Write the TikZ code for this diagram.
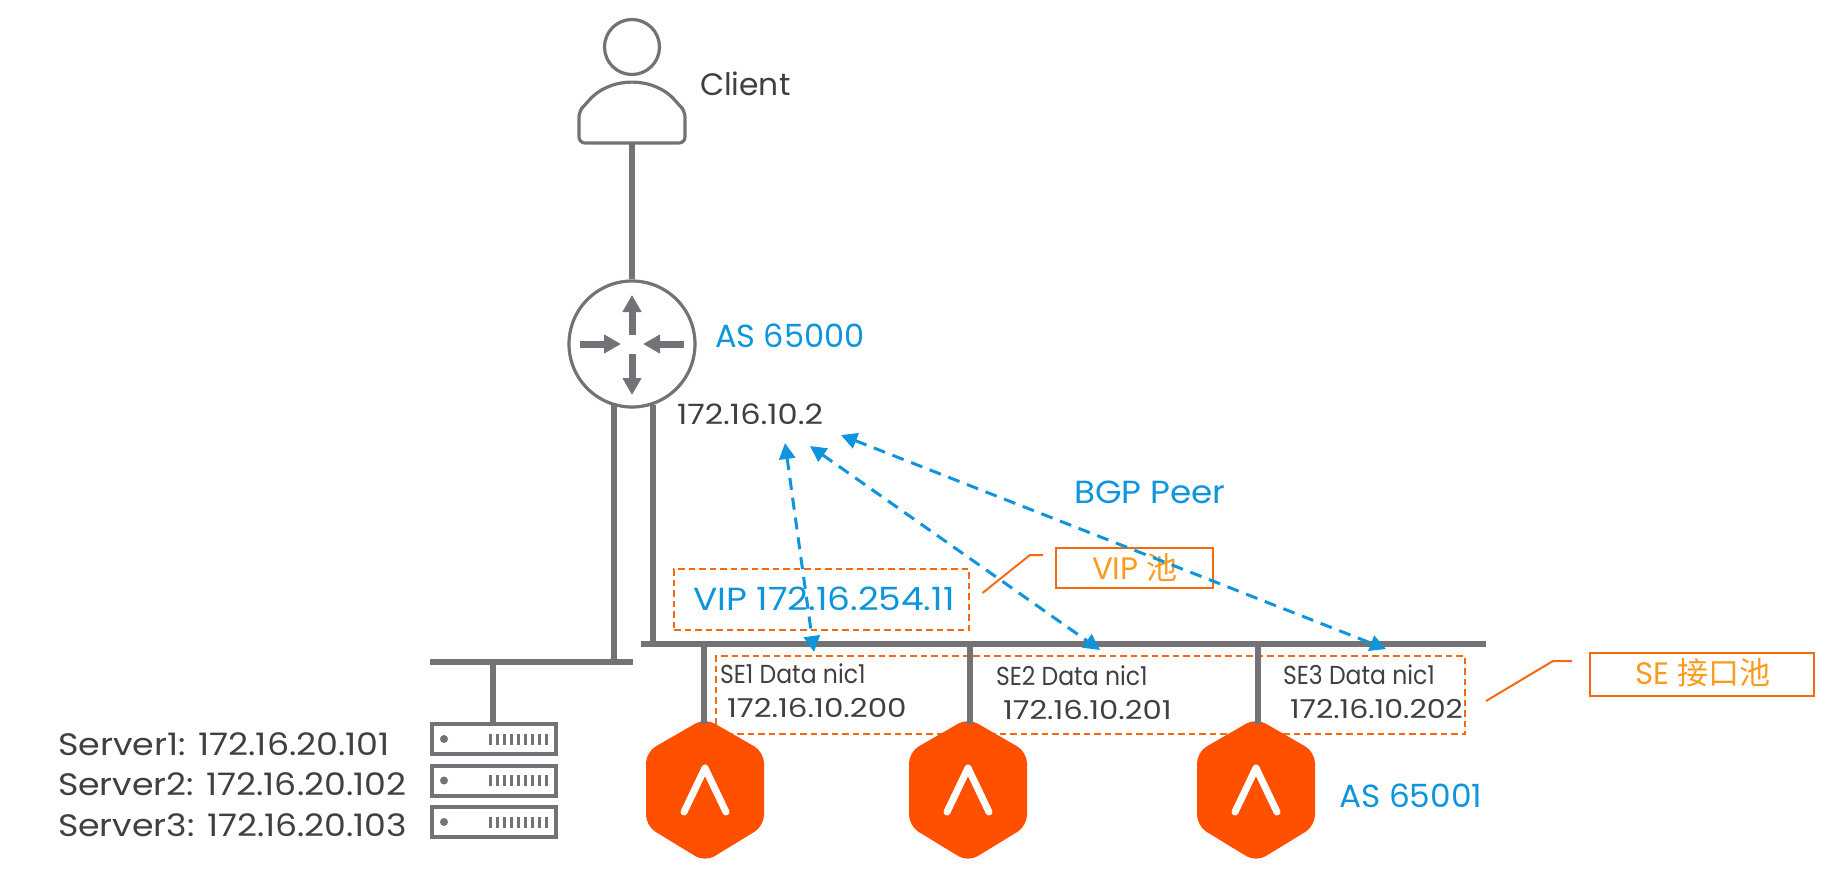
\documentclass[tikz,border=0pt]{standalone}
\usepackage{fontspec}
\setmainfont{Poppins}
\newfontfamily\cjkfont{Noto Sans CJK SC}
\usetikzlibrary{arrows.meta}
\definecolor{netgray}{HTML}{737277}
\definecolor{txtdark}{HTML}{404042}
\definecolor{bgpblue}{HTML}{0E95DB}
\definecolor{lineorange}{HTML}{F46A12}
\definecolor{poolorange}{HTML}{F99B1F}
\definecolor{hexorange}{HTML}{FF5000}
\tikzset{
  lbl/.style={anchor=base west,inner sep=0pt,outer sep=0pt},
  darktxt/.style={lbl,text=txtdark},
  bluetxt/.style={lbl,text=bgpblue},
  pooltxt/.style={lbl,text=poolorange},
  net/.style={draw=netgray,line width=5.5pt},
  iconline/.style={draw=netgray,line width=3.2pt},
  routerarrow/.style={draw=netgray,line width=7pt,-{Triangle[length=17pt,width=18pt]},shorten >=0pt},
  peer/.style={draw=bgpblue,line width=3pt,dash pattern=on 12pt off 8pt,{Triangle[length=16pt,width=16pt]}-{Triangle[length=16pt,width=16pt]}},
  dashbox/.style={draw=lineorange,line width=2pt,dash pattern=on 6.5pt off 4pt},
  poolbox/.style={draw=lineorange,line width=2.6pt,inner sep=0pt},
  callout/.style={draw=lineorange,line width=2pt},
  srvbox/.style={draw=netgray,line width=4pt,fill=white,inner sep=0pt,minimum width=124pt,minimum height=30pt},
}
\newcommand{\sx}[2]{\scalebox{#1}[1]{#2}}
\newcommand{\hexicon}[2]{%
  \fill[hexorange,rounded corners=11pt] (#1,718) -- (#1+59,752) -- (#1+59,826) -- (#1,862) -- (#1-59,826) -- (#1-59,752) -- cycle;
  \draw[white,line width=7pt,line cap=round,line join=round] (#1-21,812) -- (#1,768) -- (#1+21,812);
  \coordinate (#2) at (#1,724);
}
\newcommand{\srvdetail}[1]{%
  \fill[netgray] (444,#1) circle (4pt);
  \foreach \bx in {490,497,504,511,518,525,532,539,546}
    \fill[netgray] (\bx-1.5,#1-5.5) rectangle (\bx+1.5,#1+5.5);
}
\begin{document}
\begin{tikzpicture}[x=1pt,y=-1pt]
\useasboundingbox (0,0) rectangle (1840,886);
\fill[white] (0,0) rectangle (1840,886);

% client
\node[circle,iconline,minimum size=55pt,inner sep=0pt] (clienthead) at (632,47) {};
\draw[iconline,rounded corners=6pt] (579,143) -- (579,111) -- (585,105) .. controls (610,76) and (654,76) .. (679,105) -- (685,111) -- (685,143) -- cycle;
\coordinate (clientbase) at (632,143);
\node[darktxt,font=\fontsize{31}{31}\selectfont] (clientlabel) at (700,95) {\sx{1.01}{Client}};

% router
\node[circle,iconline,fill=white,minimum size=126pt,inner sep=0pt] (router) at (632,344) {};
\draw[net] (clientbase) -- (router.north);
\coordinate (rup) at (632,335); \coordinate (rupt) at (632,295);
\coordinate (rdn) at (632,354); \coordinate (rdnt) at (632,395);
\coordinate (rlf) at (580,344); \coordinate (rlft) at (621,344);
\coordinate (rrt) at (684,344); \coordinate (rrtt) at (643,344);
\draw[routerarrow] (rup) -- (rupt);
\draw[routerarrow] (rdn) -- (rdnt);
\draw[routerarrow] (rlf) -- (rlft);
\draw[routerarrow] (rrt) -- (rrtt);
\node[bluetxt,font=\fontsize{32}{32}\selectfont] (as65000) at (715,347) {AS 65000};
\node[darktxt,font=\fontsize{28}{28}\selectfont] (rtrip) at (677,424) {\sx{1.146}{172.16.10.2}};

% buses
\node[fill=netgray,inner sep=0pt,minimum width=203pt,minimum height=6pt] (busserver) at (531.5,662) {};
\node[fill=netgray,inner sep=0pt,minimum width=845pt,minimum height=6pt] (busse) at (1063.5,644) {};
\coordinate (rtl) at (614,405); \coordinate (rtr) at (653,405);
\draw[net] (rtl) -- (rtl |- busserver);
\draw[net] (rtr) -- (rtr |- busse);

% servers
\node[srvbox] (srv1) at (494,739) {};
\node[srvbox] (srv2) at (494,780.5) {};
\node[srvbox] (srv3) at (494,822) {};
\coordinate (srvdrop) at (493,662);
\draw[net] (srvdrop) -- (srvdrop |- srv1.north);
\srvdetail{739}
\srvdetail{780.5}
\srvdetail{822}
\node[darktxt,font=\fontsize{31}{31}\selectfont] (s1lbl) at (58,755) {\sx{1.125}{Server1: 172.16.20.101}};
\node[darktxt,font=\fontsize{31}{31}\selectfont] (s2lbl) at (58,795) {\sx{1.12}{Server2: 172.16.20.102}};
\node[darktxt,font=\fontsize{31}{31}\selectfont] (s3lbl) at (58,836) {\sx{1.12}{Server3: 172.16.20.103}};

% pools
\node[dashbox,minimum width=295pt,minimum height=61pt,inner sep=0pt] (vipbox) at (821.5,599.5) {};
\node[bluetxt,font=\fontsize{32}{32}\selectfont] (viplbl) at (693,610) {\sx{1.125}{VIP 172.16.254.11}};
\node[dashbox,minimum width=749pt,minimum height=78pt,inner sep=0pt] (sebox) at (1090.5,695) {};
\node[poolbox,minimum width=157pt,minimum height=40pt] (vippool) at (1134.5,568) {};
\node[pooltxt,font=\fontsize{31}{31}\selectfont] (vippooltxt) at (1092,579) {VIP {\cjkfont 池}};
\node[poolbox,minimum width=224pt,minimum height=43pt] (sepool) at (1702,674.5) {};
\node[pooltxt,font=\fontsize{31}{31}\selectfont] (sepooltxt) at (1635,684) {SE {\cjkfont 接口池}};
\coordinate (vc1) at (982.5,593); \coordinate (vc2) at (1030,555); \coordinate (vc3) at (1043,555);
\draw[callout] (vc1) -- (vc2) -- (vc3);
\coordinate (sc1) at (1486,701); \coordinate (sc2) at (1553,661); \coordinate (sc3) at (1572,661);
\draw[callout] (sc1) -- (sc2) -- (sc3);

% SEs
\coordinate (d1) at (704,644); \coordinate (d2) at (970,644); \coordinate (d3) at (1258,644);
\hexicon{705}{hexa}
\hexicon{968}{hexb}
\hexicon{1256}{hexc}
\draw[net] (d1) -- (d1 |- hexa);
\draw[net] (d2) -- (d2 |- hexb);
\draw[net] (d3) -- (d3 |- hexc);
\node[darktxt,font=\fontsize{26}{26}\selectfont] (se1a) at (720,683) {\sx{0.905}{SE1 Data nic1}};
\node[darktxt,font=\fontsize{26}{26}\selectfont] (se1b) at (727,717) {\sx{1.19}{172.16.10.200}};
\node[darktxt,font=\fontsize{26}{26}\selectfont] (se2a) at (996,685) {\sx{0.905}{SE2 Data nic1}};
\node[darktxt,font=\fontsize{26}{26}\selectfont] (se2b) at (1003,719) {\sx{1.18}{172.16.10.201}};
\node[darktxt,font=\fontsize{26}{26}\selectfont] (se3a) at (1283,684) {\sx{0.905}{SE3 Data nic1}};
\node[darktxt,font=\fontsize{26}{26}\selectfont] (se3b) at (1290,718) {\sx{1.157}{172.16.10.202}};
\node[bluetxt,font=\fontsize{32}{32}\selectfont] (as65001) at (1339,807) {\sx{1.025}{AS 65001}};

% BGP
\node[bluetxt,font=\fontsize{32}{32}\selectfont] (bgplbl) at (1074,503) {\sx{1.07}{BGP Peer}};
\coordinate (p1a) at (785,443); \coordinate (p1b) at (814,652);
\coordinate (p2a) at (810,446); \coordinate (p2b) at (1100,650);
\coordinate (p3a) at (841,435); \coordinate (p3b) at (1386,649);
\draw[peer] (p1a) -- (p1b);
\draw[peer] (p2a) -- (p2b);
\draw[peer] (p3a) -- (p3b);
\end{tikzpicture}
\end{document}
